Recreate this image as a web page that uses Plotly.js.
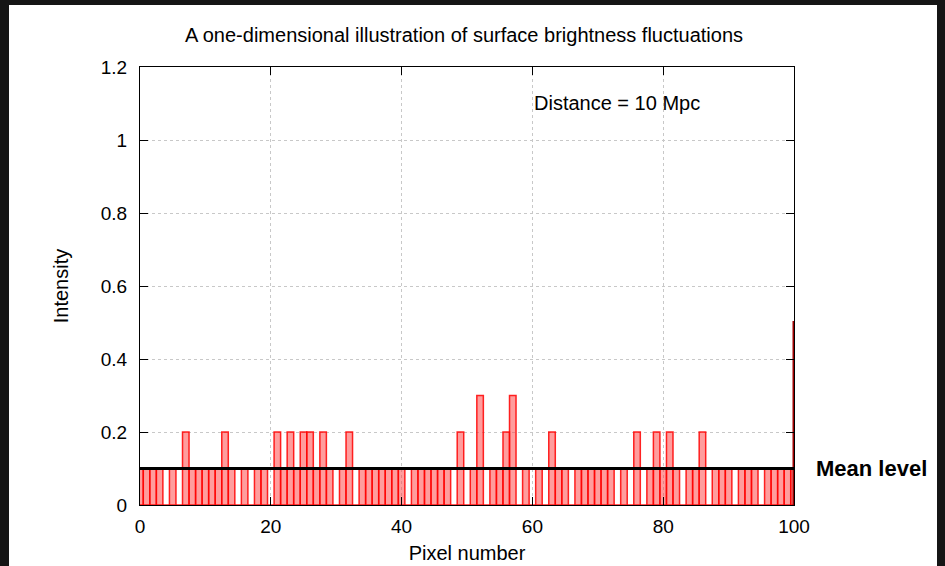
<!DOCTYPE html>
<html><head><meta charset="utf-8">
<script src="https://cdn.plot.ly/plotly-3.0.1.min.js"></script>
<style>html,body{margin:0;padding:0;background:#151515;} #chart{width:945px;height:566px;}</style>
</head><body><div id="chart"></div>
<script>
// Data
const pixelNumber = [0,1,2,3,4,5,6,7,8,9,10,11,12,13,14,15,16,17,18,19,20,
  21,22,23,24,25,26,27,28,29,30,31,32,33,34,35,36,37,38,39,40,
  41,42,43,44,45,46,47,48,49,50,51,52,53,54,55,56,57,58,59,60,
  61,62,63,64,65,66,67,68,69,70,71,72,73,74,75,76,77,78,79,80,
  81,82,83,84,85,86,87,88,89,90,91,92,93,94,95,96,97,98,99,100];
const intensity = [
  0.1,0.1,0.1,0.1,0,0.1,0,0.2,0.1,0.1,   // 0-9
  0.1,0.1,0.1,0.2,0.1,0,0.1,0,0.1,0.1,   // 10-19
  0,0.2,0.1,0.2,0.1,0.2,0.2,0.1,0.2,0.1, // 20-29
  0,0.1,0.2,0,0.1,0.1,0.1,0.1,0.1,0.1,   // 30-39
  0.1,0,0.1,0.1,0.1,0.1,0.1,0.1,0,0.2,   // 40-49
  0,0.1,0.3,0,0.1,0.1,0.2,0.3,0,0.1,     // 50-59
  0,0.1,0,0.2,0.1,0.1,0,0.1,0.1,0.1,     // 60-69
  0.1,0.1,0.1,0,0.1,0,0.2,0,0.1,0.2,     // 70-79
  0.1,0.2,0.1,0,0.1,0.1,0.2,0,0.1,0.1,   // 80-89
  0.1,0,0.1,0.1,0.1,0,0.1,0.1,0.1,0.1,   // 90-99
  0.1                                    // 100
];
const edgeX = [100.5];
const edgeY = [0.5];
const meanLevel = 0.1;
const meanX = [0, 100];
const xTicks = [0,20,40,60,80,100];
const yTicks = [0,0.2,0.4,0.6,0.8,1,1.2];

const FONT = 'Liberation Sans, Arial, Helvetica, sans-serif';

const traces = [
  {type:'bar', x: pixelNumber, y: intensity, width: 1,
   marker:{color:'rgba(255,60,60,0.5)', line:{color:'rgba(255,0,0,0.85)', width:1.5}},
   hoverinfo:'x+y', showlegend:false},
  {type:'bar', x: edgeX, y: edgeY, width: 1,
   marker:{color:'rgba(255,60,60,0.5)', line:{color:'#a00000', width:3}},
   showlegend:false},
  {type:'scatter', mode:'lines', x: meanX, y: [meanLevel, meanLevel],
   line:{color:'#000', width:3}, showlegend:false, cliponaxis:false}
];

const axisCommon = {
  showline:true, mirror:'allticks', linecolor:'#000', linewidth:1,
  ticks:'inside', ticklen:8, tickwidth:1, tickcolor:'#000',
  showgrid:true, gridcolor:'#c8c8c8', griddash:'dot', gridwidth:1,
  zeroline:false, tickfont:{family:FONT, size:19, color:'#000'}
};

const layout = {
  width:945, height:566,
  margin:{l:140, r:151, t:67, b:61},
  paper_bgcolor:'#151515', plot_bgcolor:'#fff',
  barmode:'overlay', bargap:0,
  font:{family:FONT, color:'#000'},
  title:{text:'A one-dimensional illustration of surface brightness fluctuations',
    font:{family:FONT, size:20, color:'#000'}, x:464/945, xanchor:'center',
    y:1-35/566, yanchor:'middle', xref:'container', yref:'container'},
  xaxis:Object.assign({}, axisCommon, {range:[0,100], tickvals:xTicks, ticktext:xTicks.map(String),
    ticklabelstandoff:4,
    title:{text:'Pixel number', font:{family:FONT, size:20, color:'#000'}, standoff:10}}),
  yaxis:Object.assign({}, axisCommon, {range:[0,1.2], tickvals:yTicks, ticktext:yTicks.map(String),
    ticklabelstandoff:8,
    title:{text:'Intensity', font:{family:FONT, size:20, color:'#000'}, standoff:26}}),
  shapes:[
    {type:'rect', xref:'paper', yref:'paper', x0:(9-140)/654, x1:(937-140)/654, y0:-61/438, y1:(566-5-61)/438,
     fillcolor:'#fff', line:{width:0}, layer:'below'}
  ],
  annotations:[
    {text:'Distance = 10 Mpc', xref:'x', yref:'y', x:60, y:1.102, xanchor:'left', yanchor:'middle',
     showarrow:false, font:{family:FONT, size:20, color:'#000'}},
    {text:'<b>Mean level</b>', xref:'paper', yref:'y', x:1.03, y:meanLevel, xanchor:'left', yanchor:'middle',
     showarrow:false, font:{family:FONT, size:22, color:'#000'}}
  ]
};

Plotly.newPlot('chart', traces, layout, {displayModeBar:false, staticPlot:true});
</script>
</body></html>
